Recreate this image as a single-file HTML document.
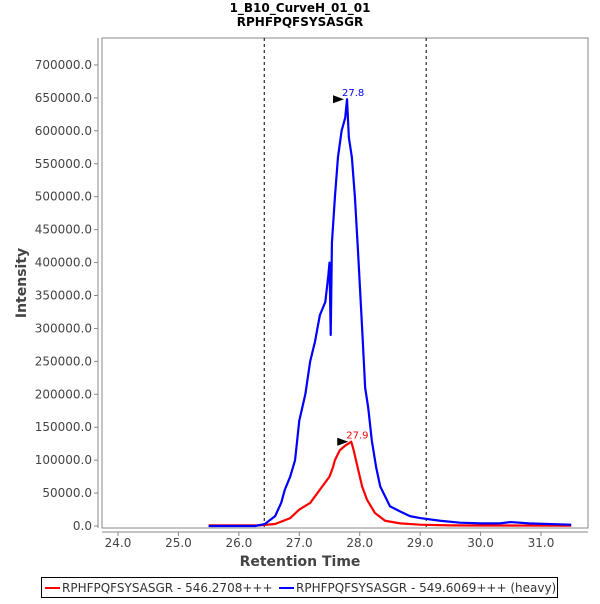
<!DOCTYPE html>
<html><head><meta charset="utf-8"><style>
body{margin:0;background:#fff;font-family:"DejaVu Sans","Liberation Sans",sans-serif}
</style></head><body>
<svg width="600" height="600" xmlns="http://www.w3.org/2000/svg" font-family="DejaVu Sans, Liberation Sans, sans-serif">
<text x="300" y="12" text-anchor="middle" font-size="12" font-weight="bold">1_B10_CurveH_01_01</text>
<text x="300" y="26" text-anchor="middle" font-size="12" font-weight="bold">RPHFPQFSYSASGR</text>
<rect x="102" y="38" width="486" height="490" fill="#fff" stroke="#888"/>
<line x1="98" y1="38" x2="98" y2="528" stroke="#888"/>
<line x1="102" y1="532" x2="588" y2="532" stroke="#888"/>
<g id="ticks"></g>
<g id="marks"></g>
<text x="300" y="566" text-anchor="middle" font-size="14" font-weight="bold" fill="#444">Retention Time</text>
<text transform="translate(26,283) rotate(-90)" text-anchor="middle" font-size="14" font-weight="bold" fill="#444">Intensity</text>
<g>
<rect x="41.5" y="577.5" width="516" height="20" fill="#fff" stroke="#000"/>
<line x1="45" y1="588" x2="60" y2="588" stroke="#f00" stroke-width="2"/>
<text x="62" y="592" font-size="12" fill="#333">RPHFPQFSYSASGR - 546.2708+++</text>
<line x1="279" y1="588" x2="294" y2="588" stroke="#00f" stroke-width="2"/>
<text x="296" y="592" font-size="12" fill="#333">RPHFPQFSYSASGR - 549.6069+++ (heavy)</text>
</g>
</svg>
<script>
const xTicks=[24,25,26,27,28,29,30,31];
const yTicks=[0,50000,100000,150000,200000,250000,300000,350000,400000,450000,500000,550000,600000,650000,700000];
const boundaries=[26.42,29.1];
const blueRT=[25.5,26.27,26.43,26.6,26.7,26.76,26.85,26.93,27.0,27.1,27.18,27.26,27.34,27.43,27.48,27.5,27.52,27.54,27.59,27.64,27.7,27.76,27.79,27.82,27.87,27.92,27.97,28.04,28.09,28.14,28.2,28.27,28.34,28.42,28.5,28.67,28.83,29.0,29.33,29.66,29.99,30.32,30.5,30.8,31.1,31.5];
const blueVal=[0,0,3000,15000,35000,55000,75000,100000,160000,200000,250000,280000,320000,340000,380000,400000,290000,430000,500000,560000,600000,620000,648000,590000,560000,500000,420000,300000,210000,180000,130000,90000,60000,45000,30000,22000,15000,12000,8000,5000,4000,4000,6000,4000,3000,2000];
const redRT=[25.5,26.35,26.6,26.85,27.0,27.18,27.34,27.5,27.56,27.59,27.67,27.76,27.86,27.9,27.95,28.04,28.12,28.25,28.42,28.67,29.0,29.5,30.0,31.5];
const redVal=[1000,1000,3000,12000,25000,35000,55000,75000,90000,100000,115000,122000,128000,115000,95000,60000,40000,20000,8000,4000,2000,1000,800,500];
const NS="http://www.w3.org/2000/svg";
const xs=v=>118+(v-24)*60.43;
const ys=v=>526-v/100000*65.86;
function mk(t,a,p){const e=document.createElementNS(NS,t);for(const k in a)e.setAttribute(k,a[k]);p.appendChild(e);return e;}
const tg=document.getElementById('ticks'),mg=document.getElementById('marks');
xTicks.forEach(v=>{
 mk('line',{x1:xs(v),y1:532,x2:xs(v),y2:536,stroke:'#888'},tg);
 const t=mk('text',{x:xs(v),y:547,'text-anchor':'middle','font-size':12,fill:'#444'},tg);
 t.textContent=v.toFixed(1);
 
 
});
yTicks.forEach(v=>{
 mk('line',{x1:94,y1:ys(v),x2:98,y2:ys(v),stroke:'#888'},tg);
 const t=mk('text',{x:92,y:ys(v)+4,'text-anchor':'end','font-size':12,fill:'#444'},tg);
 t.textContent=v.toFixed(1);
 
 
});
boundaries.forEach(v=>{
 const l=mk('line',{x1:xs(v),y1:38,x2:xs(v),y2:528,stroke:'#000','stroke-dasharray':'3,3','stroke-width':1},mg);
 
 
});
function series(rt,val,col,name){
 const p=mk('polyline',{points:rt.map((r,i)=>xs(r)+','+ys(val[i])).join(' '),fill:'none',stroke:col,'stroke-width':2.2,'stroke-linejoin':'round'},mg);
 
 
}
series(redRT,redVal,'#f00','light-series');
series(blueRT,blueVal,'#00f','heavy-series');
function peak(rt,val,col,name){
 let m=0;val.forEach((v,i)=>{if(v>val[m])m=i;});
 const x=xs(rt[m]),y=ys(val[m]);
 mk('path',{d:`M${x-14},${y-4} L${x-3},${y} L${x-14},${y+4} Z`,fill:'#000'},mg);
 const t=mk('text',{x:x-5,y:y-3,'font-size':10,fill:col},mg);
 t.textContent=rt[m].toFixed(1);
 
 
}
peak(blueRT,blueVal,'#00f','heavy-peak-label');
peak(redRT,redVal,'#f00','light-peak-label');
</script>
</body></html>
